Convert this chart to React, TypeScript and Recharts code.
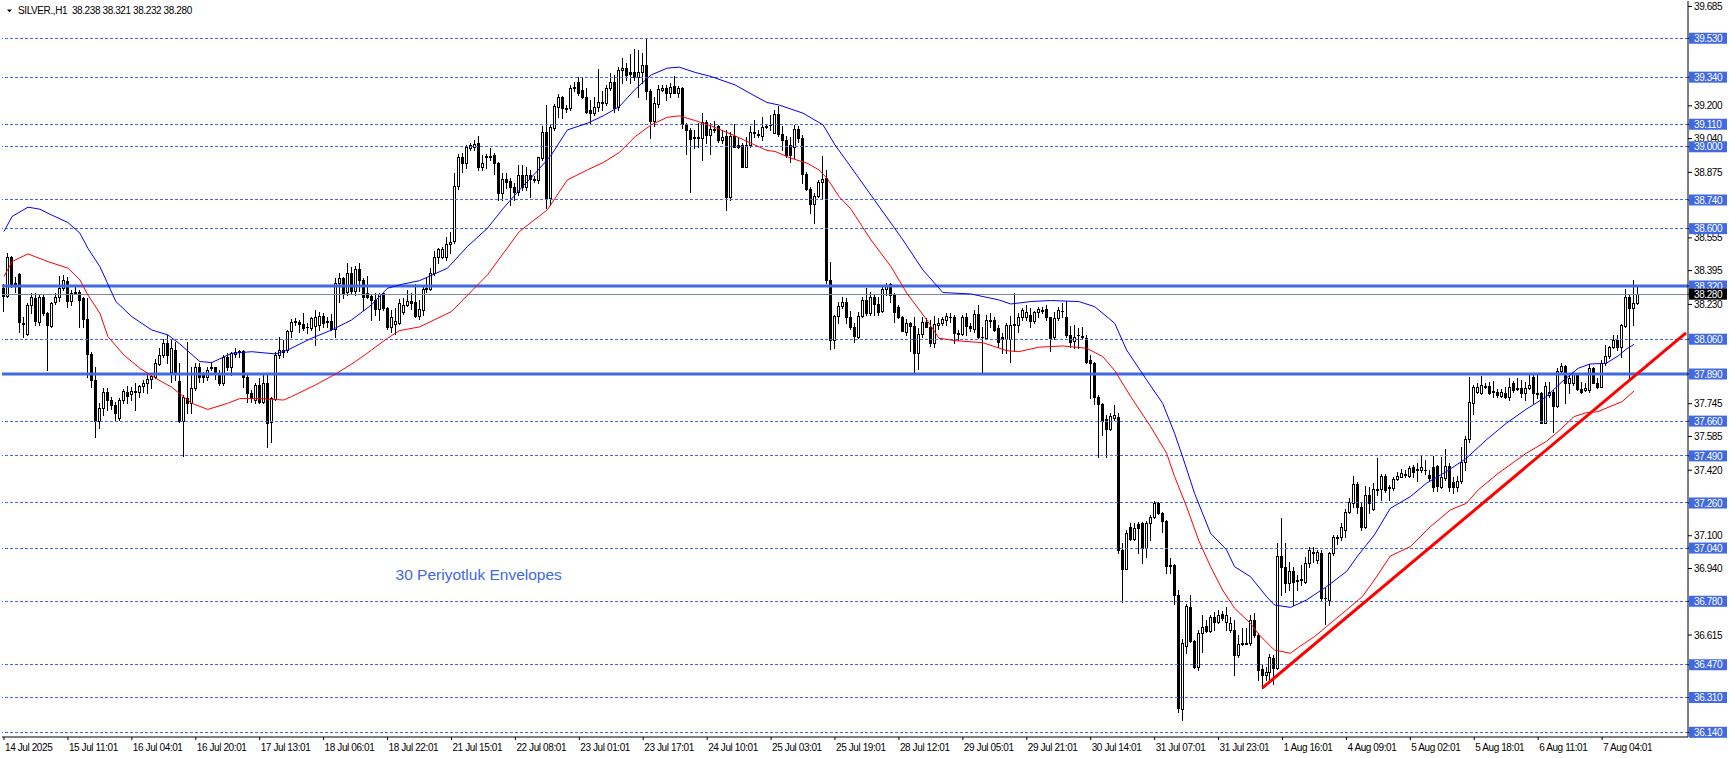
import React from 'react';
import { ComposedChart, Bar, Line, XAxis, YAxis, ReferenceLine, ReferenceDot } from 'recharts';

// ---- H1 candles (SILVER) ----
const opens = [
  38.31, 38.27, 38.46, 38.336, 38.379, 38.138, 38.086, 38.227, 38.26, 38.146,
  38.268, 38.187, 38.126, 38.24, 38.265, 38.309, 38.345, 38.248, 38.288, 38.292,
  38.26, 38.157, 37.988, 37.861, 37.662, 37.722, 37.804, 37.763, 37.739, 37.673,
  37.763, 37.804, 37.792, 37.804, 37.804, 37.831, 37.844, 37.864, 37.877, 37.939,
  37.983, 38.04, 37.902, 38.007, 37.857, 37.662, 37.774, 37.747, 37.82, 37.923,
  37.885, 37.877, 37.923, 37.923, 37.893, 37.848, 37.975, 37.926, 37.988, 37.999,
  38.004, 37.877, 37.796, 37.763, 37.836, 37.755, 37.848, 37.654, 37.766, 37.983,
  37.999, 38.007, 38.102, 38.146, 38.146, 38.134, 38.121, 38.113, 38.125, 38.13,
  38.174, 38.146, 38.15, 38.108, 38.336, 38.358, 38.292, 38.385, 38.297, 38.402,
  38.349, 38.284, 38.271, 38.252, 38.206, 38.284, 38.211, 38.118, 38.134, 38.141,
  38.195, 38.227, 38.248, 38.244, 38.174, 38.203, 38.306, 38.304, 38.382, 38.463,
  38.463, 38.463, 38.525, 38.541, 38.809, 38.952, 38.919, 38.996, 38.998, 39.017,
  38.903, 38.952, 38.955, 38.96, 38.923, 38.773, 38.841, 38.835, 38.802, 38.781,
  38.862, 38.805, 38.862, 38.841, 38.838, 38.944, 39.074, 38.748, 39.09, 39.196,
  39.242, 39.188, 39.188, 39.286, 39.318, 39.278, 39.245, 39.18, 39.167, 39.193,
  39.213, 39.216, 39.286, 39.318, 39.193, 39.376, 39.384, 39.367, 39.367, 39.34,
  39.367, 39.4, 39.27, 39.128, 39.209, 39.278, 39.286, 39.261, 39.297, 39.265,
  39.286, 39.107, 39.082, 39.046, 39.046, 39.042, 39.123, 39.058, 39.086, 39.099,
  39.033, 39.053, 38.757, 39.053, 39.009, 39.009, 38.903, 39.009, 39.074, 39.063,
  39.053, 39.095, 39.107, 39.069, 39.16, 39.063, 39.033, 39.009, 39.001, 39.086,
  39.042, 38.867, 38.792, 38.721, 38.76, 38.83, 38.846, 38.349, 38.056, 38.173,
  38.222, 38.243, 38.17, 38.12, 38.073, 38.174, 38.252, 38.19, 38.268, 38.232,
  38.2, 38.304, 38.33, 38.276, 38.216, 38.167, 38.097, 38.138, 38.125, 37.994,
  38.086, 38.146, 38.118, 38.043, 38.13, 38.141, 38.154, 38.17, 38.167, 38.092,
  38.086, 38.167, 38.125, 38.108, 38.183, 38.073, 38.064, 38.154, 38.154, 38.113,
  38.069, 38.06, 38.06, 38.13, 38.13, 38.167, 38.167, 38.178, 38.151, 38.195,
  38.2, 38.206, 38.167, 38.069, 38.162, 38.2, 38.167, 38.081, 38.051, 38.081,
  38.076, 38.064, 37.959, 37.946, 37.78, 37.744, 37.669, 37.62, 37.674, 37.682,
  37.03, 36.94, 37.141, 37.082, 37.157, 37.16, 37.038, 37.164, 37.193, 37.258,
  37.209, 37.173, 36.957, 36.957, 36.81, 36.256, 36.561, 36.753, 36.587, 36.457,
  36.626, 36.659, 36.636, 36.704, 36.68, 36.717, 36.68, 36.639, 36.639, 36.517,
  36.571, 36.574, 36.574, 36.688, 36.615, 36.447, 36.419, 36.435, 36.505, 36.452,
  37.0, 36.949, 36.87, 36.929, 36.88, 36.883, 36.875, 36.968, 37.017, 36.981,
  37.017, 36.797, 36.786, 37.014, 37.092, 37.092, 37.128, 37.217, 37.258, 37.352,
  37.238, 37.144, 37.299, 37.229, 37.326, 37.326, 37.392, 37.336, 37.331, 37.375,
  37.388, 37.401, 37.392, 37.434, 37.424, 37.421, 37.421, 37.397, 37.437, 37.44,
  37.34, 37.38, 37.44, 37.364, 37.34, 37.369, 37.462, 37.571, 37.75, 37.804,
  37.796, 37.831, 37.831, 37.809, 37.804, 37.783, 37.799, 37.779, 37.844, 37.82,
  37.82, 37.796, 37.82, 37.877, 37.796, 37.799, 37.652, 37.787, 37.804, 37.734,
  37.906, 37.929, 37.844, 37.848, 37.893, 37.815, 37.812, 37.812, 37.918, 37.848,
  37.828, 37.942, 37.978, 38.024, 38.056, 38.02, 38.125, 38.268, 38.214, 38.238,
];
const highs = [
  38.33, 38.48, 38.467, 38.366, 38.385, 38.17, 38.236, 38.288, 38.284, 38.281,
  38.281, 38.195, 38.244, 38.288, 38.369, 38.375, 38.363, 38.301, 38.325, 38.301,
  38.268, 38.26, 37.999, 37.923, 37.747, 37.82, 37.82, 37.779, 37.755, 37.771,
  37.815, 37.831, 37.828, 37.844, 37.836, 37.861, 37.893, 37.893, 37.962, 38.015,
  38.06, 38.081, 38.056, 38.048, 37.942, 37.787, 38.048, 37.926, 37.942, 37.942,
  37.902, 37.926, 37.95, 37.926, 37.91, 37.983, 37.991, 37.999, 38.015, 38.007,
  38.007, 37.89, 37.812, 37.844, 37.869, 37.893, 37.89, 37.779, 37.999, 38.073,
  38.056, 38.105, 38.157, 38.162, 38.154, 38.187, 38.138, 38.17, 38.203, 38.195,
  38.187, 38.17, 38.183, 38.358, 38.385, 38.366, 38.431, 38.415, 38.418, 38.434,
  38.358, 38.369, 38.281, 38.284, 38.288, 38.288, 38.219, 38.203, 38.211, 38.255,
  38.26, 38.301, 38.288, 38.33, 38.252, 38.325, 38.358, 38.406, 38.493, 38.504,
  38.512, 38.561, 38.585, 38.874, 38.965, 38.968, 39.009, 39.02, 39.033, 39.053,
  38.96, 38.965, 38.993, 38.968, 38.928, 38.871, 38.871, 38.846, 38.822, 38.911,
  38.911, 38.903, 38.887, 38.857, 38.952, 39.099, 39.204, 39.112, 39.209, 39.258,
  39.248, 39.204, 39.302, 39.314, 39.343, 39.343, 39.286, 39.229, 39.245, 39.379,
  39.27, 39.302, 39.362, 39.351, 39.392, 39.433, 39.408, 39.454, 39.477, 39.473,
  39.457, 39.53, 39.281, 39.245, 39.302, 39.302, 39.302, 39.31, 39.346, 39.297,
  39.291, 39.115, 39.09, 39.082, 39.115, 39.164, 39.131, 39.115, 39.128, 39.107,
  39.082, 39.082, 39.074, 39.112, 39.05, 39.017, 39.05, 39.099, 39.131, 39.082,
  39.144, 39.112, 39.156, 39.18, 39.2, 39.102, 39.053, 39.05, 39.107, 39.099,
  39.058, 38.879, 38.805, 38.773, 38.838, 38.955, 38.887, 38.439, 38.178, 38.243,
  38.268, 38.26, 38.2, 38.14, 38.195, 38.268, 38.309, 38.293, 38.276, 38.268,
  38.317, 38.333, 38.336, 38.284, 38.227, 38.174, 38.157, 38.146, 38.17, 38.113,
  38.17, 38.162, 38.154, 38.174, 38.162, 38.167, 38.187, 38.19, 38.177, 38.105,
  38.178, 38.187, 38.138, 38.203, 38.227, 38.121, 38.178, 38.19, 38.17, 38.13,
  38.089, 38.138, 38.174, 38.288, 38.187, 38.211, 38.227, 38.211, 38.2, 38.219,
  38.216, 38.227, 38.17, 38.195, 38.219, 38.236, 38.249, 38.125, 38.13, 38.113,
  38.121, 38.081, 37.983, 37.95, 37.788, 37.747, 37.69, 37.701, 37.739, 37.701,
  37.063, 37.128, 37.164, 37.16, 37.169, 37.169, 37.173, 37.201, 37.271, 37.266,
  37.217, 37.177, 36.989, 36.962, 36.835, 36.598, 36.769, 36.81, 36.59, 36.639,
  36.713, 36.688, 36.712, 36.729, 36.737, 36.734, 36.753, 36.704, 36.688, 36.615,
  36.647, 36.647, 36.712, 36.721, 36.623, 36.468, 36.46, 36.521, 36.517, 37.066,
  37.185, 37.066, 36.973, 36.949, 36.908, 36.957, 36.997, 37.046, 37.043, 37.03,
  37.03, 36.843, 37.022, 37.103, 37.103, 37.16, 37.233, 37.282, 37.392, 37.364,
  37.258, 37.343, 37.336, 37.356, 37.478, 37.401, 37.401, 37.348, 37.388, 37.413,
  37.424, 37.421, 37.44, 37.445, 37.454, 37.494, 37.47, 37.421, 37.489, 37.445,
  37.486, 37.522, 37.454, 37.388, 37.392, 37.535, 37.587, 37.877, 37.836, 37.844,
  37.88, 37.848, 37.853, 37.857, 37.815, 37.815, 37.825, 37.869, 37.857, 37.869,
  37.861, 37.853, 37.885, 37.896, 37.885, 37.804, 37.853, 37.853, 37.812, 37.918,
  37.942, 37.934, 37.897, 37.901, 37.897, 37.853, 37.848, 37.939, 37.926, 37.869,
  37.958, 38.032, 38.027, 38.081, 38.081, 38.134, 38.304, 38.276, 38.349, 38.321,
];
const lows = [
  38.2, 38.268, 38.317, 38.292, 38.097, 38.073, 38.081, 38.187, 38.13, 38.13,
  38.178, 37.91, 38.121, 38.232, 38.248, 38.301, 38.219, 38.227, 38.281, 38.118,
  38.121, 37.877, 37.825, 37.581, 37.625, 37.69, 37.714, 37.717, 37.665, 37.665,
  37.75, 37.747, 37.763, 37.714, 37.779, 37.804, 37.796, 37.82, 37.869, 37.934,
  37.975, 37.942, 37.853, 37.861, 37.657, 37.49, 37.698, 37.698, 37.812, 37.853,
  37.853, 37.861, 37.91, 37.864, 37.836, 37.836, 37.91, 37.885, 37.975, 37.975,
  37.828, 37.755, 37.755, 37.747, 37.747, 37.747, 37.532, 37.559, 37.763, 37.967,
  37.975, 37.999, 38.073, 38.13, 38.097, 38.105, 38.089, 38.105, 38.032, 38.105,
  38.121, 38.121, 38.105, 38.073, 38.244, 38.26, 38.276, 38.288, 38.276, 38.297,
  38.203, 38.26, 38.154, 38.178, 38.154, 38.203, 38.11, 38.097, 38.086, 38.134,
  38.183, 38.222, 38.206, 38.17, 38.157, 38.178, 38.292, 38.3, 38.374, 38.431,
  38.455, 38.447, 38.48, 38.528, 38.792, 38.879, 38.895, 38.985, 38.985, 38.887,
  38.887, 38.895, 38.936, 38.867, 38.74, 38.74, 38.797, 38.716, 38.74, 38.765,
  38.789, 38.789, 38.757, 38.83, 38.822, 38.936, 38.7, 38.716, 39.082, 39.147,
  39.139, 39.172, 39.18, 39.27, 39.253, 39.237, 39.164, 39.118, 39.156, 39.177,
  39.18, 39.204, 39.275, 39.172, 39.18, 39.31, 39.327, 39.31, 39.327, 39.245,
  39.31, 39.232, 39.042, 39.099, 39.193, 39.27, 39.229, 39.245, 39.261, 39.245,
  39.09, 38.965, 38.781, 38.993, 39.001, 38.936, 39.017, 38.965, 39.074, 39.025,
  39.017, 38.691, 38.74, 38.998, 38.993, 38.9, 38.9, 39.001, 39.046, 39.05,
  39.033, 39.09, 39.082, 39.066, 39.053, 38.985, 38.952, 38.928, 38.944, 39.025,
  38.822, 38.789, 38.675, 38.626, 38.757, 38.748, 38.333, 38.01, 38.015, 38.137,
  38.211, 38.137, 38.11, 38.045, 38.064, 38.167, 38.178, 38.178, 38.178, 38.178,
  38.195, 38.276, 38.244, 38.146, 38.162, 38.098, 38.081, 38.0, 37.893, 37.913,
  38.073, 38.118, 38.027, 38.024, 38.108, 38.13, 38.13, 38.146, 38.04, 38.056,
  38.081, 38.081, 38.102, 38.097, 38.064, 37.902, 38.06, 38.121, 38.102, 38.02,
  37.991, 37.991, 37.95, 38.0, 38.097, 38.154, 38.154, 38.121, 38.138, 38.167,
  38.187, 38.154, 38.0, 38.06, 38.154, 38.167, 38.073, 38.024, 38.016, 38.016,
  38.064, 37.946, 37.771, 37.744, 37.486, 37.592, 37.483, 37.616, 37.665, 37.014,
  36.778, 36.94, 37.079, 37.079, 37.014, 36.968, 36.997, 37.079, 37.185, 37.206,
  37.12, 36.916, 36.916, 36.769, 36.24, 36.199, 36.525, 36.582, 36.452, 36.444,
  36.533, 36.631, 36.631, 36.639, 36.672, 36.688, 36.639, 36.631, 36.419, 36.509,
  36.566, 36.571, 36.566, 36.607, 36.395, 36.354, 36.395, 36.395, 36.378, 36.447,
  36.81, 36.826, 36.835, 36.761, 36.835, 36.859, 36.867, 36.949, 36.973, 36.965,
  36.786, 36.668, 36.761, 37.005, 37.062, 37.079, 37.095, 37.209, 37.242, 37.209,
  37.128, 37.136, 37.209, 37.225, 37.299, 37.274, 37.315, 37.274, 37.323, 37.372,
  37.385, 37.388, 37.388, 37.388, 37.369, 37.413, 37.401, 37.372, 37.32, 37.32,
  37.331, 37.372, 37.32, 37.307, 37.32, 37.356, 37.421, 37.559, 37.695, 37.796,
  37.792, 37.82, 37.792, 37.779, 37.779, 37.776, 37.771, 37.763, 37.804, 37.812,
  37.779, 37.763, 37.815, 37.747, 37.771, 37.649, 37.649, 37.779, 37.608, 37.73,
  37.897, 37.747, 37.796, 37.836, 37.812, 37.799, 37.808, 37.804, 37.844, 37.82,
  37.825, 37.934, 37.967, 38.016, 38.007, 37.975, 38.121, 37.869, 38.13, 38.232,
];
const closes = [
  38.27, 38.46, 38.325, 38.325, 38.146, 38.133, 38.227, 38.268, 38.151, 38.268,
  38.187, 38.13, 38.236, 38.265, 38.309, 38.349, 38.248, 38.288, 38.292, 38.252,
  38.157, 37.988, 37.861, 37.662, 37.722, 37.804, 37.763, 37.739, 37.698, 37.763,
  37.809, 37.783, 37.807, 37.806, 37.831, 37.848, 37.864, 37.88, 37.946, 37.983,
  38.04, 37.983, 38.016, 37.902, 37.662, 37.779, 37.747, 37.82, 37.923, 37.877,
  37.874, 37.91, 37.926, 37.89, 37.848, 37.975, 37.926, 37.991, 37.999, 38.001,
  37.877, 37.799, 37.771, 37.836, 37.755, 37.848, 37.649, 37.771, 37.983, 38.007,
  38.007, 38.102, 38.146, 38.149, 38.134, 38.113, 38.118, 38.162, 38.17, 38.174,
  38.141, 38.149, 38.108, 38.336, 38.358, 38.288, 38.385, 38.297, 38.402, 38.349,
  38.268, 38.268, 38.252, 38.206, 38.281, 38.211, 38.118, 38.17, 38.15, 38.236,
  38.227, 38.248, 38.239, 38.174, 38.206, 38.306, 38.312, 38.382, 38.463, 38.499,
  38.499, 38.525, 38.535, 38.809, 38.952, 38.919, 39.001, 39.009, 39.014, 38.903,
  38.923, 38.955, 38.957, 38.919, 38.773, 38.841, 38.83, 38.802, 38.781, 38.862,
  38.805, 38.862, 38.841, 38.843, 38.949, 39.074, 38.748, 39.095, 39.2, 39.242,
  39.188, 39.185, 39.286, 39.294, 39.261, 39.245, 39.172, 39.167, 39.193, 39.221,
  39.221, 39.286, 39.318, 39.188, 39.376, 39.384, 39.351, 39.356, 39.34, 39.367,
  39.4, 39.27, 39.128, 39.213, 39.281, 39.286, 39.261, 39.291, 39.265, 39.286,
  39.112, 39.082, 39.037, 39.042, 39.05, 39.123, 39.058, 39.086, 39.084, 39.033,
  39.05, 38.753, 39.053, 39.001, 39.001, 38.903, 39.009, 39.074, 39.069, 39.058,
  39.095, 39.102, 39.105, 39.16, 39.063, 39.033, 38.96, 38.96, 39.086, 39.042,
  38.867, 38.792, 38.721, 38.76, 38.83, 38.841, 38.349, 38.056, 38.173, 38.222,
  38.243, 38.17, 38.12, 38.075, 38.174, 38.252, 38.187, 38.265, 38.232, 38.195,
  38.304, 38.325, 38.276, 38.195, 38.167, 38.102, 38.141, 38.125, 37.994, 38.086,
  38.146, 38.121, 38.043, 38.134, 38.138, 38.157, 38.174, 38.167, 38.092, 38.086,
  38.17, 38.125, 38.113, 38.183, 38.069, 38.069, 38.154, 38.151, 38.105, 38.048,
  38.06, 38.13, 38.13, 38.132, 38.167, 38.203, 38.195, 38.151, 38.195, 38.206,
  38.202, 38.167, 38.064, 38.162, 38.203, 38.198, 38.081, 38.048, 38.069, 38.079,
  38.078, 37.95, 37.946, 37.78, 37.744, 37.662, 37.62, 37.685, 37.69, 37.03,
  36.94, 37.111, 37.082, 37.136, 37.136, 37.038, 37.164, 37.193, 37.258, 37.209,
  37.173, 36.952, 36.952, 36.81, 36.261, 36.574, 36.756, 36.587, 36.46, 36.626,
  36.655, 36.636, 36.704, 36.68, 36.712, 36.696, 36.712, 36.672, 36.517, 36.571,
  36.574, 36.577, 36.688, 36.615, 36.444, 36.419, 36.435, 36.509, 36.452, 37.0,
  36.949, 36.87, 36.929, 36.875, 36.883, 36.887, 36.968, 37.03, 37.02, 37.022,
  36.794, 36.794, 37.014, 37.092, 37.095, 37.141, 37.217, 37.266, 37.352, 37.238,
  37.144, 37.299, 37.258, 37.326, 37.329, 37.392, 37.323, 37.338, 37.375, 37.392,
  37.405, 37.403, 37.429, 37.413, 37.422, 37.434, 37.419, 37.38, 37.34, 37.343,
  37.388, 37.44, 37.34, 37.34, 37.369, 37.462, 37.571, 37.755, 37.828, 37.828,
  37.836, 37.833, 37.799, 37.803, 37.787, 37.804, 37.779, 37.828, 37.812, 37.822,
  37.796, 37.82, 37.836, 37.796, 37.792, 37.652, 37.831, 37.804, 37.734, 37.906,
  37.929, 37.844, 37.869, 37.893, 37.815, 37.804, 37.82, 37.918, 37.848, 37.825,
  37.942, 37.978, 38.024, 38.056, 38.02, 38.129, 38.268, 38.214, 38.235, 38.28,
];

// ---- 30-period envelopes: [bar index, value] ----
const upperEnvelope: [number, number][] = [
  [0, 38.586], [2, 38.659], [6, 38.705], [9, 38.695], [11, 38.675], [16, 38.63], [19, 38.578],
  [21, 38.504], [24, 38.415], [28, 38.244], [32, 38.17], [37, 38.105], [41, 38.081], [44, 38.037],
  [49, 37.951], [52, 37.946], [57, 37.991], [62, 37.999], [68, 37.988], [71, 38.007], [77, 38.065],
  [82, 38.105], [87, 38.154], [92, 38.228], [96, 38.309], [100, 38.33], [104, 38.346], [111, 38.407],
  [116, 38.513], [121, 38.602], [125, 38.7], [129, 38.789], [133, 38.871], [137, 38.96], [141, 39.082],
  [146, 39.115], [150, 39.151], [154, 39.196], [158, 39.281], [162, 39.351], [166, 39.384], [169, 39.389],
  [173, 39.363], [177, 39.343], [183, 39.302], [187, 39.258], [191, 39.216], [194, 39.204], [200, 39.164],
  [205, 39.107], [208, 39.009], [211, 38.928], [225, 38.545], [230, 38.398], [235, 38.288], [242, 38.281],
  [249, 38.252], [252, 38.232], [257, 38.244], [262, 38.249], [269, 38.244], [273, 38.219], [278, 38.138],
  [281, 38.007], [286, 37.861], [290, 37.747], [293, 37.6], [295, 37.486], [298, 37.307], [302, 37.112],
  [306, 37.031], [308, 36.949], [312, 36.9], [316, 36.803], [318, 36.762], [322, 36.75], [326, 36.786],
  [331, 36.851], [336, 36.925], [339, 37.006], [343, 37.104], [347, 37.234], [352, 37.291], [356, 37.356],
  [361, 37.413], [366, 37.478], [371, 37.568], [376, 37.649], [381, 37.718], [386, 37.779], [390, 37.853],
  [394, 37.918], [397, 37.939], [401, 37.942], [404, 37.978], [406, 38.011], [408, 38.035],
];
const lowerEnvelope: [number, number][] = [
  [0, 38.366], [2, 38.439], [6, 38.477], [11, 38.439], [16, 38.407], [19, 38.35], [21, 38.276],
  [24, 38.187], [26, 38.073], [30, 37.983], [34, 37.918], [38, 37.869], [42, 37.825], [47, 37.747],
  [51, 37.717], [56, 37.747], [59, 37.77], [64, 37.77], [70, 37.763], [72, 37.78], [78, 37.837],
  [83, 37.89], [88, 37.951], [92, 38.007], [96, 38.065], [99, 38.102], [104, 38.12], [112, 38.195],
  [121, 38.374], [129, 38.586], [136, 38.692], [141, 38.838], [146, 38.887], [150, 38.923], [154, 38.972],
  [158, 39.05], [162, 39.107], [166, 39.144], [169, 39.151], [173, 39.128], [177, 39.102], [183, 39.053],
  [187, 39.017], [191, 38.982], [193, 38.977], [197, 38.944], [201, 38.92], [204, 38.887], [206, 38.846],
  [209, 38.757], [212, 38.695], [217, 38.545], [222, 38.415], [226, 38.284], [231, 38.154], [234, 38.065],
  [238, 38.053], [245, 38.043], [251, 38.004], [254, 37.999], [259, 38.021], [265, 38.027], [271, 38.016],
  [275, 37.975], [278, 37.907], [282, 37.78], [287, 37.633], [291, 37.503], [293, 37.389], [296, 37.242],
  [299, 37.079], [302, 36.949], [305, 36.835], [308, 36.746], [312, 36.672], [314, 36.62], [317, 36.56],
  [318, 36.542], [322, 36.526], [324, 36.555], [328, 36.607], [331, 36.656], [336, 36.737], [340, 36.803],
  [343, 36.884], [347, 37.001], [352, 37.047], [357, 37.144], [362, 37.226], [366, 37.258], [369, 37.324],
  [374, 37.405], [381, 37.503], [386, 37.56], [389, 37.609], [393, 37.682], [396, 37.701], [399, 37.706],
  [401, 37.723], [405, 37.755], [408, 37.807],
];
const trendLine: [number, number][] = [[315, 36.357], [421, 38.091]];

// ---- axes ----
const xTickIndex = [0, 16, 32, 48, 64, 80, 96, 112, 128, 144, 160, 176, 192, 208, 224, 240, 256, 272, 288, 304, 320, 336, 352, 368, 384, 400];
const xTickLabels = [
  '14 Jul 2025', '15 Jul 11:01', '16 Jul 04:01', '16 Jul 20:01', '17 Jul 13:01', '18 Jul 06:01',
  '18 Jul 22:01', '21 Jul 15:01', '22 Jul 08:01', '23 Jul 01:01', '23 Jul 17:01', '24 Jul 10:01',
  '25 Jul 03:01', '25 Jul 19:01', '28 Jul 12:01', '29 Jul 05:01', '29 Jul 21:01', '30 Jul 14:01',
  '31 Jul 07:01', '31 Jul 23:01', '1 Aug 16:01', '4 Aug 09:01', '5 Aug 02:01', '5 Aug 18:01',
  '6 Aug 11:01', '7 Aug 04:01',
];
const plainPriceTicks = [39.685, 39.2, 39.04, 38.875, 38.555, 38.395, 38.23, 37.745, 37.585, 37.42, 37.1, 36.94, 36.615];
const dashedLevels = [39.53, 39.34, 39.11, 39.0, 38.74, 38.6, 38.06, 37.66, 37.49, 37.26, 37.04, 36.78, 36.47, 36.31, 36.14];
const thickLevels = [38.32, 37.89];
const bidLevel = 38.28;
const priceDomain: [number, number] = [36.117, 39.712];
const SLOTS = 422;

const header = 'SILVER.,H1  38.238 38.321 38.232 38.280';
const note = '30 Periyotluk Envelopes';

const BLUE = '#4169E1';
const FONT = '"Liberation Sans", Arial, sans-serif';

type Row = { i: number; o?: number; h?: number; l?: number; c?: number; up?: number; lo?: number; tr?: number };
const data: Row[] = Array.from({ length: SLOTS }, (_, i) => {
  const r: Row = { i };
  if (i < opens.length) {
    r.o = opens[i]; r.h = highs[i]; r.l = lows[i]; r.c = closes[i];
  }
  return r;
});
upperEnvelope.forEach(([i, v]) => { data[i].up = v; });
lowerEnvelope.forEach(([i, v]) => { data[i].lo = v; });
trendLine.forEach(([i, v]) => { data[i].tr = v; });

const boxedSet = new Set([...dashedLevels, ...thickLevels].map((v) => v.toFixed(3)));
const yTicks = [...plainPriceTicks, ...dashedLevels, ...thickLevels, bidLevel];

const Candle = (props: any) => {
  const { x, width, payload } = props;
  let { y, height } = props;
  if (!payload || payload.o == null || y == null || isNaN(y)) return null;
  if (height < 0) { y = y + height; height = -height; }
  const { o, h, l, c } = payload as { o: number; h: number; l: number; c: number };
  const span = h - l;
  const k = span > 0 ? height / span : 0;
  const yOf = (v: number) => y + (h - v) * k;
  const px = Math.floor(x + width / 2);
  const yH = Math.round(yOf(h));
  const yL = Math.round(yOf(l));
  const yO = Math.round(yOf(o));
  const yC = Math.round(yOf(c));
  const top = Math.min(yO, yC);
  const bot = Math.max(yO, yC);
  const up = c >= o;
  return (
    <g shapeRendering="crispEdges">
      <line x1={px + 0.5} x2={px + 0.5} y1={yH} y2={yL + 1} stroke="#000" strokeWidth={1} />
      {up ? (
        <rect x={px - 0.5} y={top + 0.5} width={2} height={Math.max(bot - top, 1)} fill="#fff" stroke="#000" strokeWidth={1} />
      ) : (
        <rect x={px - 1} y={top} width={3} height={Math.max(bot - top + 1, 1)} fill="#000" />
      )}
    </g>
  );
};

const XTick = (props: any) => {
  const { x, y, payload } = props;
  const idx = xTickIndex.indexOf(payload.value);
  if (idx < 0) return null;
  return (
    <text x={x + 1} y={y + 11} fontSize={10} letterSpacing={-0.4} fontFamily={FONT} fill="#000" textAnchor="start">
      {xTickLabels[idx]}
    </text>
  );
};

const YTick = (props: any) => {
  const { x, y, payload } = props;
  const v: number = payload.value;
  const label = v.toFixed(3);
  const isPlain = plainPriceTicks.includes(v);
  const isBid = !isPlain && Math.abs(v - bidLevel) < 1e-9;
  const boxed = !isPlain && boxedSet.has(label);
  if (isBid || boxed) {
    return (
      <g>
        <rect x={x - 3} y={y - 5.5} width={38} height={11} fill={isBid ? '#000' : BLUE} />
        <text x={x + 2} y={y + 3.6} fontSize={10} letterSpacing={-0.4} fontFamily={FONT} fill="#fff" textAnchor="start">
          {label}
        </text>
      </g>
    );
  }
  return (
    <text x={x + 2} y={y + 3.6} fontSize={10} letterSpacing={-0.4} fontFamily={FONT} fill="#000" textAnchor="start">
      {label}
    </text>
  );
};

export default function App() {
  return (
    <div style={{ position: 'absolute', left: 0, top: 0, width: 1729, height: 758, background: '#fff' }}>
      <ComposedChart width={1729} height={758} data={data} margin={{ top: 1, right: 0, bottom: 0, left: 2 }} barCategoryGap={0}>
        <XAxis
          dataKey="i"
          type="category"
          ticks={xTickIndex}
          interval={0}
          height={21}
          tickSize={3}
          tickMargin={0}
          tickLine={{ stroke: '#000' }}
          axisLine={{ stroke: '#000' }}
          tick={(p: any) => <XTick {...p} />}
        />
        <XAxis xAxisId="frameTop" dataKey="i" type="category" orientation="top" height={0} tick={false} tickLine={false} axisLine={{ stroke: '#000' }} />
        <YAxis
          orientation="right"
          type="number"
          domain={priceDomain}
          allowDataOverflow
          ticks={yTicks}
          interval={0}
          width={41}
          tickSize={4}
          tickMargin={0}
          tickLine={{ stroke: '#000' }}
          axisLine={{ stroke: '#000' }}
          tick={(p: any) => <YTick {...p} />}
        />
        <YAxis yAxisId="frameLeft" orientation="left" type="number" domain={[0, 1]} width={0} tick={false} tickLine={false} axisLine={{ stroke: '#000' }} />

        <Bar
          dataKey={(r: Row) => (r.o == null ? undefined : [r.l, r.h])}
          barSize={3}
          isAnimationActive={false}
          shape={(p: any) => <Candle {...p} />}
        />

        {dashedLevels.map((v) => (
          <ReferenceLine key={`d${v}`} y={v} stroke={BLUE} strokeWidth={1} strokeDasharray="3 2" shapeRendering="crispEdges" />
        ))}
        <ReferenceLine y={bidLevel} stroke="#778899" strokeWidth={1} shapeRendering="crispEdges" />
        {thickLevels.map((v) => (
          <ReferenceLine key={`t${v}`} y={v} stroke={BLUE} strokeWidth={3} />
        ))}

        <Line dataKey="up" type="linear" stroke="#0000FF" strokeWidth={1} dot={false} activeDot={false} connectNulls isAnimationActive={false} />
        <Line dataKey="lo" type="linear" stroke="#FF0000" strokeWidth={1} dot={false} activeDot={false} connectNulls isAnimationActive={false} />
        <Line dataKey="tr" type="linear" stroke="#FF0000" strokeWidth={3} dot={false} activeDot={false} connectNulls isAnimationActive={false} />

        <ReferenceDot
          x={0}
          y={39.7}
          r={0}
          shape={(p: any) => (
            <g>
              <path d={`M${p.cx + 3},${p.cy + 6} L${p.cx + 8},${p.cy + 6} L${p.cx + 5.5},${p.cy + 9} Z`} fill="#000" />
              <text x={p.cx + 14} y={p.cy + 11} fontSize={10} letterSpacing={-0.4} fontFamily={FONT} fill="#000" style={{ whiteSpace: 'pre' }}>
                {header}
              </text>
            </g>
          )}
        />
        <ReferenceDot
          x={98}
          y={36.91}
          r={0}
          shape={(p: any) => (
            <text x={p.cx} y={p.cy + 5.5} fontSize={15.5} fontFamily={FONT} fill={BLUE}>
              {note}
            </text>
          )}
        />
      </ComposedChart>
    </div>
  );
}
